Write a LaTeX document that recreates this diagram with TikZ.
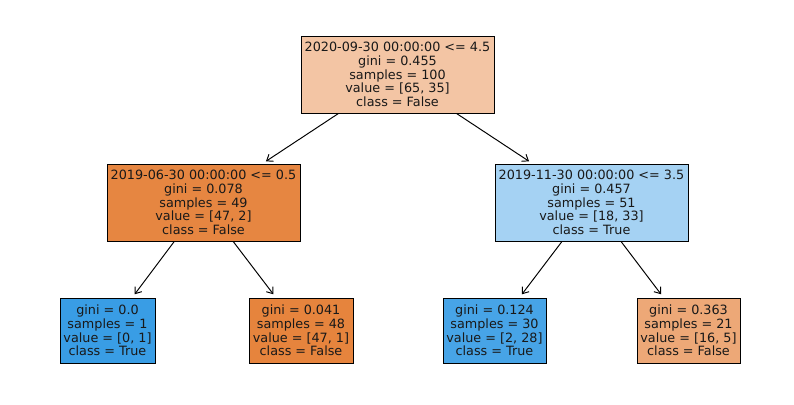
\documentclass[tikz,border=0pt]{standalone}
\usepackage{fontspec}
\setmainfont{DejaVu Sans}
\usetikzlibrary{arrows.meta}
\definecolor{cRoot}{RGB}{243,197,164}
\definecolor{cLeftTwo}{RGB}{230,134,65}
\definecolor{cRightTwo}{RGB}{165,210,243}
\definecolor{cLeafA}{RGB}{57,157,229}
\definecolor{cLeafB}{RGB}{230,132,61}
\definecolor{cLeafC}{RGB}{71,164,231}
\definecolor{cLeafD}{RGB}{237,168,119}
\tikzset{
  treebox/.style={draw=black, line width=0.6pt, align=center, inner sep=0pt,
    font=\fontsize{9.2pt}{9.85pt}\selectfont, text=black!90},
  splitbox/.style={treebox, minimum width=193*0.72pt, minimum height=77*0.72pt},
  leafbox/.style={treebox, minimum height=65*0.72pt},
  edge/.style={draw=black, line width=0.7pt, -{Straight Barb[length=4pt,width=6pt]}, shorten >=3pt}
}
\begin{document}
\begin{tikzpicture}[x=0.72pt, y=-0.72pt]
\useasboundingbox (0,0) rectangle (794,405);
\node[splitbox, fill=cRoot] (root) at (397.5,74.5) {2020-09-30 00:00:00 <= 4.5\\gini = 0.455\\samples = 100\\value = [65, 35]\\class = False};
\node[splitbox, fill=cLeftTwo] (ltwo) at (203.5,202.5) {2019-06-30 00:00:00 <= 0.5\\gini = 0.078\\samples = 49\\value = [47, 2]\\class = False};
\node[splitbox, fill=cRightTwo] (rtwo) at (591.5,202.5) {2019-11-30 00:00:00 <= 3.5\\gini = 0.457\\samples = 51\\value = [18, 33]\\class = True};
\node[leafbox, fill=cLeafA, minimum width=95*0.72pt] (la) at (107.5,330.5) {gini = 0.0\\samples = 1\\value = [0, 1]\\class = True};
\node[leafbox, fill=cLeafB, minimum width=104*0.72pt] (lb) at (301,330.5) {gini = 0.041\\samples = 48\\value = [47, 1]\\class = False};
\node[leafbox, fill=cLeafC, minimum width=103*0.72pt] (lc) at (494.5,330.5) {gini = 0.124\\samples = 30\\value = [2, 28]\\class = True};
\node[leafbox, fill=cLeafD, minimum width=103*0.72pt] (ld) at (688.5,330.5) {gini = 0.363\\samples = 21\\value = [16, 5]\\class = False};
\draw[edge] (root) -- (ltwo);
\draw[edge] (root) -- (rtwo);
\draw[edge] (ltwo) -- (la);
\draw[edge] (ltwo) -- (lb);
\draw[edge] (rtwo) -- (lc);
\draw[edge] (rtwo) -- (ld);
\end{tikzpicture}
\end{document}
